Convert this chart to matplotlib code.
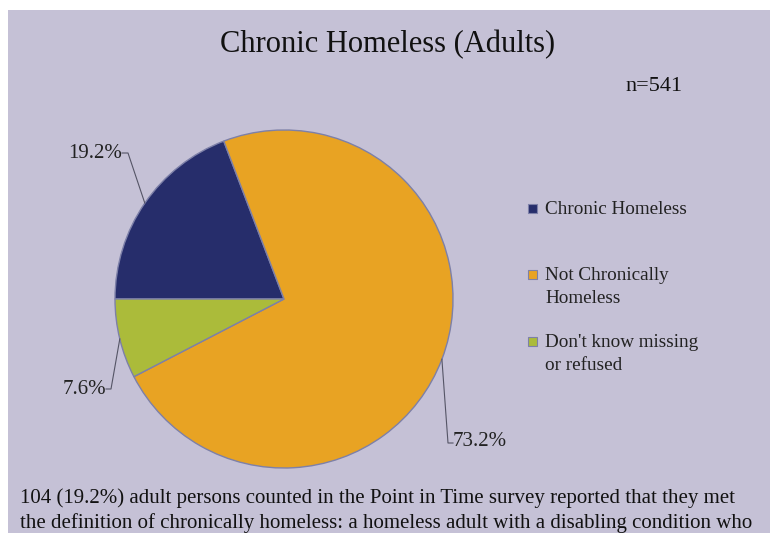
import numpy as np
import matplotlib.pyplot as plt
from matplotlib.patches import Rectangle

# data
categories = ["Chronic Homeless", "Not Chronically\nHomeless", "Don't know missing\nor refused"]
shares = [19.2, 73.2, 7.6]
pct_labels = ["19.2%", "73.2%", "7.6%"]
colors = ["#262d6b", "#e8a323", "#abbb3a"]
title = "Chronic Homeless (Adults)"
n_text = "n=541"
note = ("104 (19.2%) adult persons counted in the Point in Time survey reported that they met\n"
        "the definition of chronically homeless: a homeless adult with a disabling condition who")

W, H = 770, 533
bg = "#c5c1d6"
plt.rcParams['font.family'] = ['Liberation Serif', 'DejaVu Serif']

fig = plt.figure(figsize=(W / 100, H / 100), dpi=100)
fig.patch.set_facecolor("white")
fig.patches.append(Rectangle((8 / W, 0), 1, (H - 10) / H, transform=fig.transFigure,
                             facecolor=bg, edgecolor="none", zorder=-10))

# pie axes: centre (284, 299) px, radius 169 px
cx, cy, r = 284, 299, 169
ax = fig.add_axes([(cx - r) / W, (H - cy - r) / H, 2 * r / W, 2 * r / H])

wedges, _ = ax.pie(shares, colors=colors, startangle=180, counterclock=False, radius=1,
                   wedgeprops=dict(edgecolor="#7d80a8", linewidth=1.0))
ax.set_xlim(-1, 1)
ax.set_ylim(-1, 1)
ax.set_aspect("equal")
ax.axis("off")

# leader lines + labels: (text anchor, elbow, ha) in data units
def px(x, y):
    return (x - cx) / r, (cy - y) / r

label_spots = [(px(122, 153), px(128, 153), "right"),
               (px(453, 441), px(448, 443), "left"),
               (px(106, 389), px(111, 389), "right")]
for w, lab, (tpos, elbow, ha) in zip(wedges, pct_labels, label_spots):
    mid = np.deg2rad((w.theta1 + w.theta2) / 2)
    ex, ey = np.cos(mid), np.sin(mid)
    ax.plot([ex, elbow[0], tpos[0]], [ey, elbow[1], elbow[1]], color="#555566", lw=0.8,
            clip_on=False)
    ax.text(tpos[0], tpos[1], lab, ha=ha, va="center", fontsize=15, color="#222222")

fig.text(388 / W, 1 - 45 / H, title, ha="center", va="center", fontsize=22, color="#111111")
fig.text(654 / W, 1 - 87 / H, n_text, ha="center", va="center", fontsize=16, color="#111111")

# legend drawn by hand to match spacing
leg_y = [208, 274, 341]
for lab, col, y in zip(categories, colors, leg_y):
    fig.patches.append(Rectangle((528 / W, 1 - (y + 5) / H), 9 / W, 9 / H,
                                 transform=fig.transFigure, facecolor=col,
                                 edgecolor="#7d80a8", lw=0.8))
    fig.text(545 / W, 1 - (y - 7) / H, lab, ha="left", va="top", fontsize=13.8,
             color="#222222", linespacing=1.45)

fig.text(20 / W, 1 - 488 / H, note, ha="left", va="top", fontsize=15, color="#111111",
         linespacing=1.33)

fig.savefig("out.png", dpi=100, facecolor=fig.get_facecolor())
